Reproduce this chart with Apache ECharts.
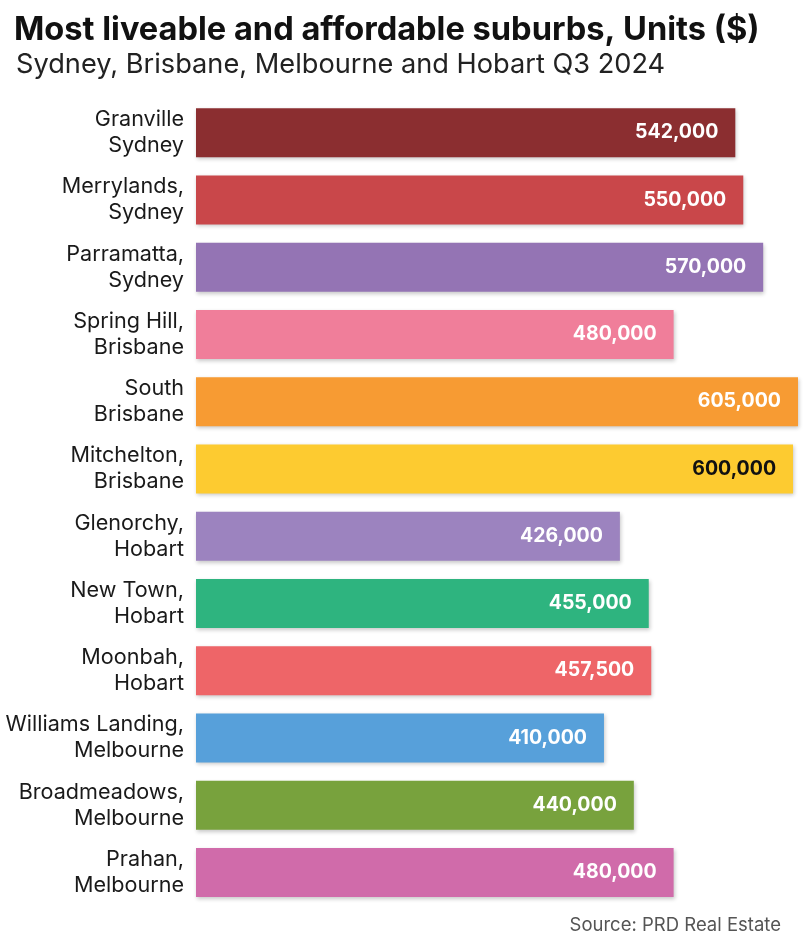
<!DOCTYPE html>
<html><head><meta charset="utf-8">
<script src="https://cdn.jsdelivr.net/npm/echarts@6/dist/echarts.min.js"></script>
<style>html,body{margin:0;padding:0;background:#fff}#c{width:810px;height:941px}</style>
</head><body><div id="c"></div>
<script>
const categories = ["Granville\nSydney","Merrylands,\nSydney","Parramatta,\nSydney","Spring Hill,\nBrisbane","South\nBrisbane","Mitchelton,\nBrisbane","Glenorchy,\nHobart","New Town,\nHobart","Moonbah,\nHobart","Williams Landing,\nMelbourne","Broadmeadows,\nMelbourne","Prahan,\nMelbourne"];
const values = [542000,550000,570000,480000,605000,600000,426000,455000,457500,410000,440000,480000];
const colors = ["#8B2E30","#C9474A","#9474B4","#F07E9A","#F79B33","#FDCB30","#9C83BF","#2EB47F","#EE6568","#57A0DA","#78A23D","#D06BAA"];
const labelColors = ["#fff","#fff","#fff","#fff","#fff","#111","#fff","#fff","#fff","#fff","#fff","#fff"];

const chart = echarts.init(document.getElementById('c'), null, {renderer:'canvas'});
const FONT = 'Inter, Roboto, "Noto Sans", sans-serif';
chart.setOption({
  backgroundColor:'#fff',
  animation:false,
  title:[
    {text:'Most liveable and affordable suburbs, Units ($)', left:9, top:9,
     textStyle:{fontFamily:FONT, fontSize:32.6, fontWeight:'bold', color:'#111'}},
    {text:'Sydney, Brisbane, Melbourne and Hobart Q3 2024', left:11, top:46,
     textStyle:{fontFamily:FONT, fontSize:27.2, fontWeight:'normal', color:'#222'}},
    {text:'Source: PRD Real Estate', right:24, top:911,
     textStyle:{fontFamily:FONT, fontSize:18.5, fontWeight:'normal', color:'#555'}}
  ],
  grid:{left:196, right:12, top:99, bottom:35, containLabel:false},
  xAxis:{type:'value', min:0, max:605000, show:false},
  yAxis:{type:'category', data:categories, inverse:true,
    axisLine:{show:false}, axisTick:{show:false}, splitLine:{show:false},
    axisLabel:{margin:12, fontFamily:FONT, fontSize:21.6, color:'#1a1a1a', lineHeight:26, align:'right'}},
  series:[{
    type:'bar', barWidth:49,
    data: values.map((v,i)=>({value:v, itemStyle:{color:colors[i]}, label:{color:labelColors[i]}})),
    itemStyle:{shadowBlur:4, shadowOffsetY:2, shadowOffsetX:1, shadowColor:'rgba(0,0,0,0.22)'},
    label:{show:true, position:'insideRight', distance:17, fontFamily:FONT, fontSize:19.5, fontWeight:'bold',
      formatter:p=>p.value.toLocaleString('en-US')}
  }]
});
</script></body></html>
